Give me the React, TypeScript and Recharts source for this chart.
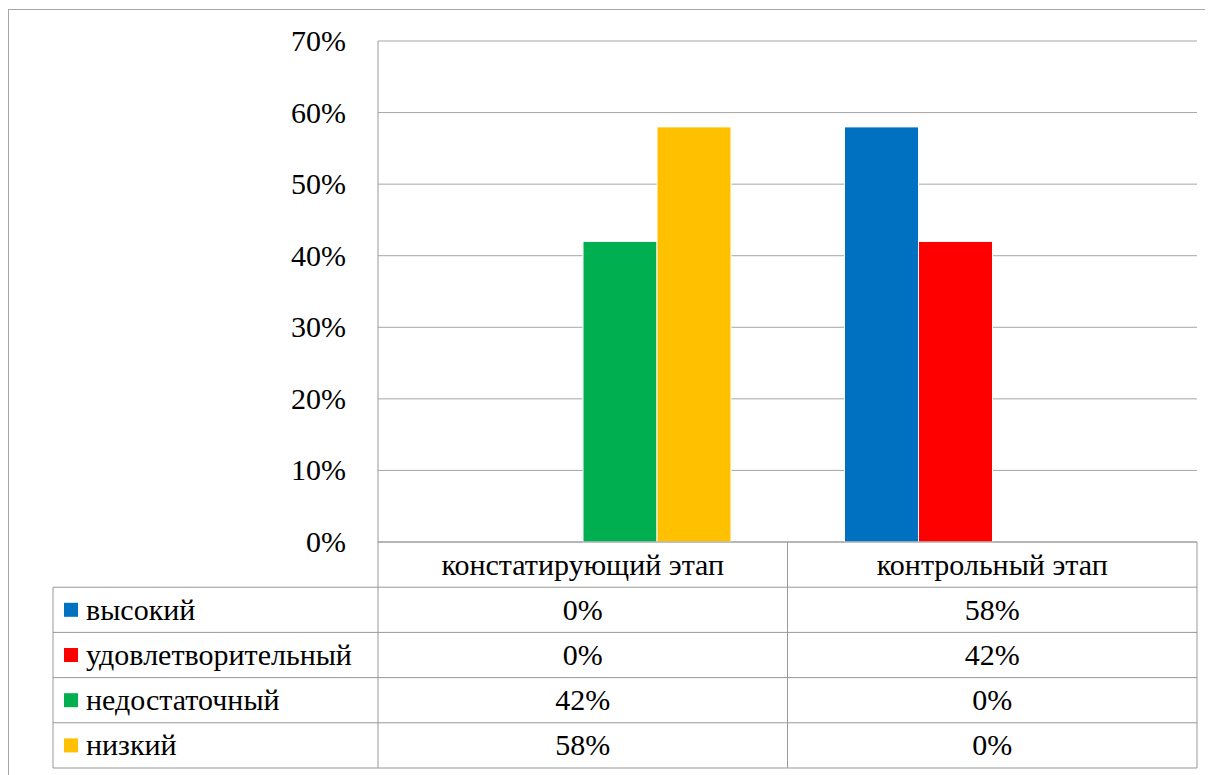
import React from "react";
import { BarChart, Bar, XAxis, YAxis, CartesianGrid } from "recharts";

const stages = ["констатирующий этап", "контрольный этап"];
const levelNames = ["высокий", "удовлетворительный", "недостаточный", "низкий"];
const levelColors = ["#0070C0", "#FF0000", "#00B050", "#FFC000"];

const high = [0, 0.58];
const satisfactory = [0, 0.42];
const insufficient = [0.42, 0];
const low = [0.58, 0];

const yTicks = [0, 0.1, 0.2, 0.3, 0.4, 0.5, 0.6, 0.7];

const seriesValues = [high, satisfactory, insufficient, low];
const seriesKeys = ["high", "satisfactory", "insufficient", "low"];

const data = stages.map((stage, i) => {
  const row: Record<string, string | number> = { stage };
  seriesKeys.forEach((k, s) => {
    row[k] = seriesValues[s][i];
  });
  return row;
});

const FONT = "Liberation Serif";
const FS = 30;
const LINE = "#999999";
const ROW = 45.2;
const LEGEND_LEFT = 44;

const pct = (v: number) => `${Math.round(v * 100)}%`;

const Label = ({ x, y, anchor, children }: any) => (
  <text
    x={x}
    y={y}
    textAnchor={anchor}
    fill="#000"
    style={{ fontFamily: FONT, fontSize: FS }}
  >
    {children}
  </text>
);

// y axis labels
const YTick = (props: any) => {
  const { x, y, payload } = props;
  return (
    <Label x={x} y={y + 10} anchor="end">
      {pct(payload.value)}
    </Label>
  );
};

// the data table under the plot is drawn from the x axis ticks
const TableTick = (props: any) => {
  const { x, y, payload } = props;
  const half = payload.offset ?? 0;
  const i = payload.index;
  const left = x - half;
  const right = x + half;
  const rows = levelNames.length;
  const base = (k: number) => y + ROW * (k + 0.5) + 10;

  return (
    <g>
      <line x1={left} x2={left} y1={y} y2={y + ROW * (rows + 1)} stroke={LINE} />
      <line x1={right} x2={right} y1={y} y2={y + ROW * (rows + 1)} stroke={LINE} />
      {[...levelNames, ""].map((_, k) => (
        <line
          key={`h${k}`}
          x1={left}
          x2={right}
          y1={y + ROW * (k + 1)}
          y2={y + ROW * (k + 1)}
          stroke={LINE}
        />
      ))}
      <Label x={x} y={base(0)} anchor="middle">
        {payload.value}
      </Label>
      {seriesValues.map((vals, k) => (
        <Label key={`v${k}`} x={x} y={base(k + 1)} anchor="middle">
          {pct(vals[i])}
        </Label>
      ))}
      {i === 0 && (
        <g>
          <line
            x1={LEGEND_LEFT}
            x2={LEGEND_LEFT}
            y1={y + ROW}
            y2={y + ROW * (rows + 1)}
            stroke={LINE}
          />
          {[...levelNames, ""].map((_, k) => (
            <line
              key={`lh${k}`}
              x1={LEGEND_LEFT}
              x2={left}
              y1={y + ROW * (k + 1)}
              y2={y + ROW * (k + 1)}
              stroke={LINE}
            />
          ))}
          {levelNames.map((name, k) => (
            <g key={`lg${k}`}>
              <rect
                x={LEGEND_LEFT + 11}
                y={y + ROW * (k + 1.5) - 7}
                width={14}
                height={14}
                fill={levelColors[k]}
              />
              <Label x={LEGEND_LEFT + 33} y={base(k + 1)} anchor="start">
                {name}
              </Label>
            </g>
          ))}
        </g>
      )}
    </g>
  );
};

export default function App() {
  return (
    <div style={{ position: "relative", width: 1205, height: 767 }}>
      <div
        style={{
          position: "absolute",
          left: 0,
          top: 1,
          width: 1205,
          height: 766,
          borderTop: "1px solid #a6a6a6",
          borderLeft: "1px solid #a6a6a6",
          boxSizing: "border-box",
        }}
      />
      <div style={{ position: "absolute", left: 1, top: 2 }}>
        <BarChart
          width={1204}
          height={765}
          data={data}
          margin={{ top: 31, right: 16, left: 0, bottom: 7 }}
          barCategoryGap={57}
          barGap={0}
        >
          <CartesianGrid vertical={false} stroke="#a6a6a6" />
          <XAxis
            dataKey="stage"
            height={226}
            interval={0}
            tickLine={false}
            tickSize={0}
            tickMargin={0}
            axisLine={{ stroke: LINE }}
            tick={<TableTick />}
          />
          <YAxis
            width={369}
            domain={[0, 0.7]}
            ticks={yTicks}
            interval={0}
            tickLine={false}
            tickSize={0}
            tickMargin={32}
            axisLine={{ stroke: LINE }}
            tick={<YTick />}
          />
          {seriesKeys.map((k, s) => (
            <Bar
              key={k}
              dataKey={k}
              name={levelNames[s]}
              fill={levelColors[s]}
              stroke="#fff"
              strokeWidth={1}
              isAnimationActive={false}
            />
          ))}
        </BarChart>
      </div>
    </div>
  );
}
